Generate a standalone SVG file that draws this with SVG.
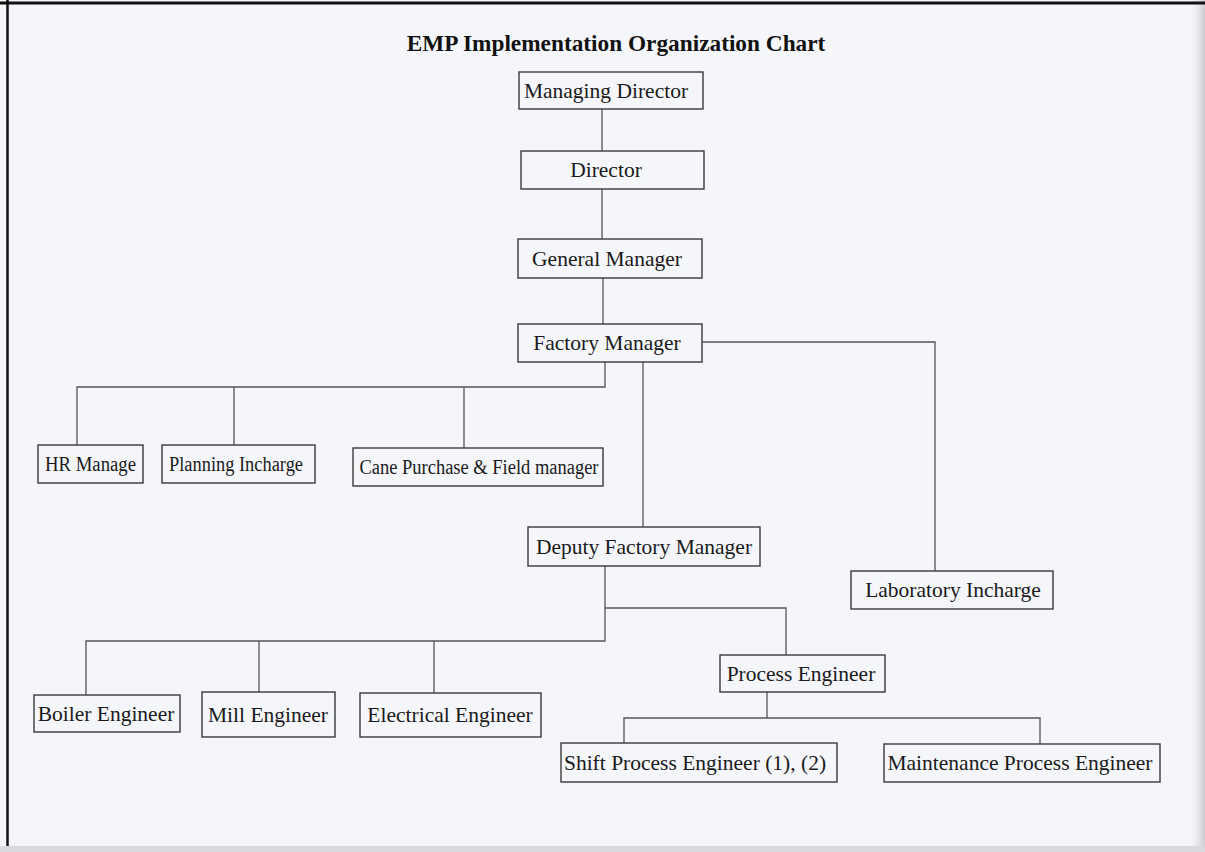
<svg xmlns="http://www.w3.org/2000/svg" width="1205" height="852" viewBox="0 0 1205 852">
  <defs>
    <linearGradient id="rightEdge" x1="0" y1="0" x2="1" y2="0">
      <stop offset="0" stop-color="#f4f5f9" stop-opacity="0"/>
      <stop offset="1" stop-color="#c9cbd0"/>
    </linearGradient>
  </defs>
  <style>
    .box { fill: none; stroke: #3a3a3a; stroke-width: 1.4; }
    .lbl { font-family: "Liberation Serif", "Times New Roman", serif; font-size: 21.5px; fill: #1a1a1a; text-anchor: middle; }
    .sm { font-size: 20px; }
    .title { font-family: "Liberation Serif", "Times New Roman", serif; font-size: 23.3px; font-weight: bold; fill: #111; text-anchor: middle; }
    .conn { fill: none; stroke: #555; stroke-width: 1.3; }
  </style>
  <rect x="0" y="0" width="1205" height="852" fill="#f5f6fa"/>
  <rect x="1188" y="0" width="17" height="852" fill="url(#rightEdge)"/>
  <rect x="0" y="846" width="1205" height="6" fill="#d8d9dc"/>
  <line x1="0" y1="3" x2="1205" y2="3" stroke="#111" stroke-width="3"/>
  <line x1="7.5" y1="0" x2="7.5" y2="846" stroke="#111" stroke-width="2.5"/>

  <text class="title" x="616" y="51">EMP Implementation Organization Chart</text>

  <g id="connectors">
    <path class="conn" d="M602,109 V151"/>
    <path class="conn" d="M602,189 V239"/>
    <path class="conn" d="M603,278 V324"/>
    <path class="conn" d="M605,362 V387 H77 V445"/>
    <path class="conn" d="M234,387 V445"/>
    <path class="conn" d="M464,387 V448"/>
    <path class="conn" d="M643,362 V527"/>
    <path class="conn" d="M702,342 H935 V571"/>
    <path class="conn" d="M605,566 V641 H86 V695"/>
    <path class="conn" d="M259,641 V692"/>
    <path class="conn" d="M434,641 V693"/>
    <path class="conn" d="M605,608 H786 V655"/>
    <path class="conn" d="M767,692 V718"/>
    <path class="conn" d="M624,743 V718 H1040 V744"/>
  </g>

  <g id="managing-director">
    <rect class="box" x="519" y="72" width="184" height="37"/>
    <text class="lbl" x="606" y="98">Managing Director</text>
  </g>
  <g id="director">
    <rect class="box" x="521" y="151" width="183" height="38"/>
    <text class="lbl" x="606" y="177">Director</text>
  </g>
  <g id="general-manager">
    <rect class="box" x="518" y="239" width="184" height="39"/>
    <text class="lbl" x="607" y="266">General Manager</text>
  </g>
  <g id="factory-manager">
    <rect class="box" x="518" y="324" width="184" height="38"/>
    <text class="lbl" x="607" y="350">Factory Manager</text>
  </g>
  <g id="hr-manage">
    <rect class="box" x="38" y="445" width="105" height="38"/>
    <text class="lbl sm" x="90.5" y="471" textLength="91" lengthAdjust="spacingAndGlyphs">HR Manage</text>
  </g>
  <g id="planning-incharge">
    <rect class="box" x="162" y="445" width="153" height="38"/>
    <text class="lbl sm" x="236" y="471" textLength="134" lengthAdjust="spacingAndGlyphs">Planning Incharge</text>
  </g>
  <g id="cane-purchase">
    <rect class="box" x="353" y="448" width="250" height="38"/>
    <text class="lbl sm" x="479" y="474" textLength="239" lengthAdjust="spacingAndGlyphs">Cane Purchase &amp; Field manager</text>
  </g>
  <g id="deputy-factory-manager">
    <rect class="box" x="528" y="527" width="232" height="39"/>
    <text class="lbl" x="644" y="554">Deputy Factory Manager</text>
  </g>
  <g id="laboratory-incharge">
    <rect class="box" x="851" y="571" width="202" height="38"/>
    <text class="lbl" x="953" y="597">Laboratory Incharge</text>
  </g>
  <g id="boiler-engineer">
    <rect class="box" x="34" y="695" width="146" height="37"/>
    <text class="lbl" x="106" y="721">Boiler Engineer</text>
  </g>
  <g id="mill-engineer">
    <rect class="box" x="202" y="692" width="133" height="45"/>
    <text class="lbl" x="268" y="722">Mill Engineer</text>
  </g>
  <g id="electrical-engineer">
    <rect class="box" x="360" y="693" width="181" height="44"/>
    <text class="lbl" x="450" y="722">Electrical Engineer</text>
  </g>
  <g id="process-engineer">
    <rect class="box" x="720" y="655" width="165" height="37"/>
    <text class="lbl" x="801" y="681">Process Engineer</text>
  </g>
  <g id="shift-process-engineer">
    <rect class="box" x="561" y="743" width="276" height="39"/>
    <text class="lbl" x="695" y="770">Shift Process Engineer (1), (2)</text>
  </g>
  <g id="maintenance-process-engineer">
    <rect class="box" x="884" y="744" width="276" height="38"/>
    <text class="lbl" x="1020" y="770">Maintenance Process Engineer</text>
  </g>
</svg>
